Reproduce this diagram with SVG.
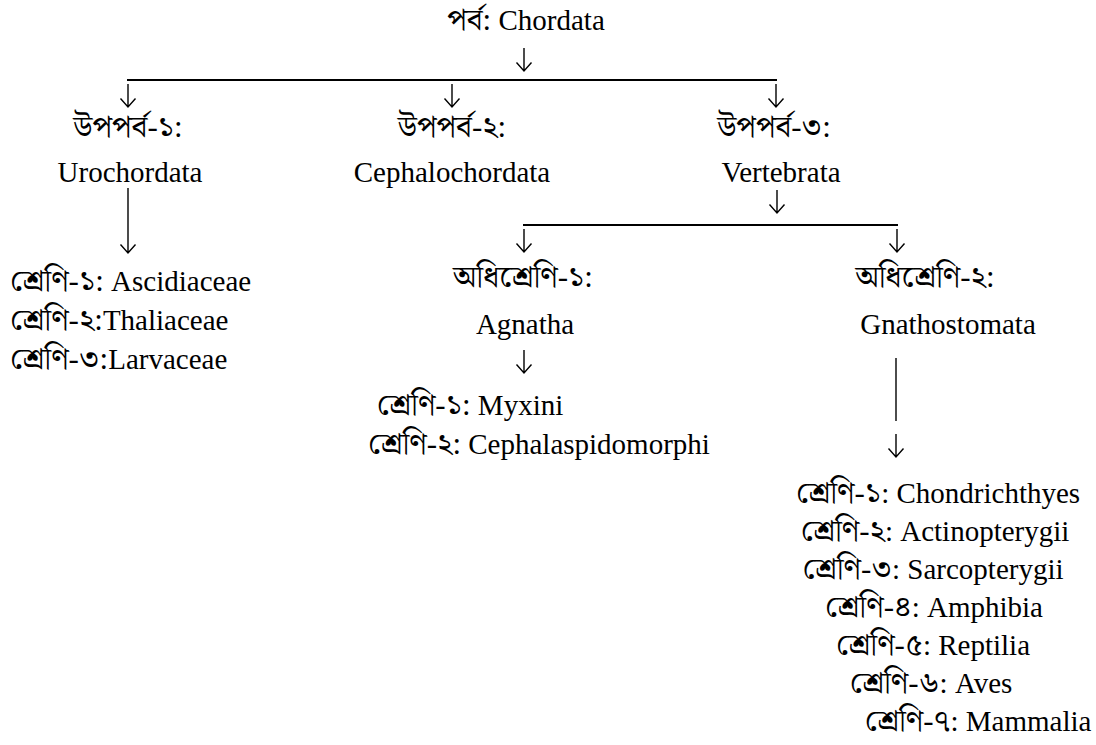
<svg xmlns="http://www.w3.org/2000/svg" width="1096" height="745" viewBox="0 0 1096 745">
<style>
text{font-family:"Liberation Serif","Noto Serif Bengali","Noto Sans Bengali","Lohit Bengali","Noto Sans",serif;font-size:29px;fill:#000}
.bn{font-size:31px}
.m{text-anchor:middle}
.ln{stroke:#000;stroke-width:2;fill:none}
.ar{stroke:#000;stroke-width:1.4;fill:none}
</style>
<defs>
<path id="arr" d="M0,0 V23 M-7.5,14.5 L0,23 L7.5,14.5"/>
</defs>
<rect width="1096" height="745" fill="#fff"/>
<g id="connectors">
<line class="ln" x1="127" y1="80" x2="777" y2="80"/>
<line class="ln" x1="523" y1="225" x2="898" y2="225"/>
<g class="ar">
<use href="#arr" x="524" y="48"/>
<use href="#arr" x="128" y="84"/>
<use href="#arr" x="452" y="84"/>
<use href="#arr" x="776" y="84"/>
<path d="M128,188 V253 M120.5,244.5 L128,253 L135.5,244.5"/>
<use href="#arr" x="777" y="190"/>
<use href="#arr" x="524" y="229"/>
<use href="#arr" x="897" y="229"/>
<use href="#arr" x="524" y="350"/>
<path d="M896,358 V421"/>
<use href="#arr" x="896" y="434"/>
</g>
</g>
<g id="n-chordata"><text class="m" x="526" y="30"><tspan class="bn">পর্ব:</tspan> Chordata</text></g>
<g id="n-uro"><text class="m bn" x="128" y="137">উপপর্ব-১:</text><text class="m" x="130" y="182">Urochordata</text></g>
<g id="n-cephalo"><text class="m bn" x="452" y="137">উপপর্ব-২:</text><text class="m" x="452" y="182">Cephalochordata</text></g>
<g id="n-verte"><text class="m bn" x="774" y="137">উপপর্ব-৩:</text><text class="m" x="781" y="182">Vertebrata</text></g>
<g id="n-uro-classes">
<text x="10" y="291"><tspan class="bn">শ্রেণি-১:</tspan> Ascidiaceae</text>
<text x="10" y="330"><tspan class="bn">শ্রেণি-২:</tspan>Thaliaceae</text>
<text x="10" y="369"><tspan class="bn">শ্রেণি-৩:</tspan>Larvaceae</text>
</g>
<g id="n-agnatha"><text class="m bn" x="523" y="287">অধিশ্রেণি-১:</text><text class="m" x="525" y="334">Agnatha</text></g>
<g id="n-agnatha-classes">
<text class="m" x="470" y="415"><tspan class="bn">শ্রেণি-১:</tspan> Myxini</text>
<text class="m" x="539" y="454"><tspan class="bn">শ্রেণি-২:</tspan> Cephalaspidomorphi</text>
</g>
<g id="n-gnatho"><text class="m bn" x="925" y="287">অধিশ্রেণি-২:</text><text class="m" x="948" y="334">Gnathostomata</text></g>
<g id="n-gnatho-classes">
<text class="m" x="938" y="503"><tspan class="bn">শ্রেণি-১</tspan>: Chondrichthyes</text>
<text class="m" x="935" y="541"><tspan class="bn">শ্রেণি-২</tspan>: Actinopterygii</text>
<text class="m" x="933" y="579"><tspan class="bn">শ্রেণি-৩</tspan>: Sarcopterygii</text>
<text class="m" x="934" y="617"><tspan class="bn">শ্রেণি-৪</tspan>: Amphibia</text>
<text class="m" x="933" y="655"><tspan class="bn">শ্রেণি-৫</tspan>: Reptilia</text>
<text class="m" x="931" y="693"><tspan class="bn">শ্রেণি-৬</tspan>: Aves</text>
<text class="m" x="978" y="731"><tspan class="bn">শ্রেণি-৭</tspan>: Mammalia</text>
</g>
</svg>
